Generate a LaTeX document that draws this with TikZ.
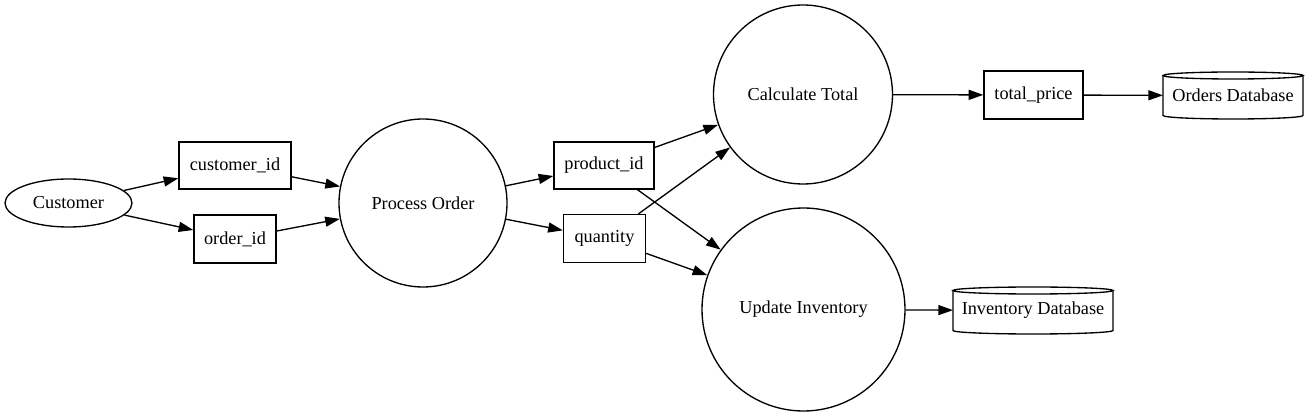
\documentclass[tikz,border=0pt]{standalone}
\usepackage{fontspec}
\setmainfont{Liberation Serif}
\usetikzlibrary{arrows.meta,shapes.geometric}
\def\u{0.75pt}
\newcommand\cylshape[2]{%
  \draw[line width=1pt] ([yshift=-3.5*\u]#1.north west) -- ([yshift=3.5*\u]#1.south west)
    arc[start angle=180,end angle=360,x radius=#2*\u/2,y radius=3.5*\u]
    -- ([yshift=-3.5*\u]#1.north east);
  \draw[line width=1pt] ([yshift=-3.5*\u]#1.north) ellipse[x radius=#2*\u/2,y radius=3.5*\u];
}
\begin{document}
\begin{tikzpicture}[x=0.75pt,y=-0.75pt,
  every node/.style={font=\fontsize{13.7}{16}\selectfont, inner sep=0pt, line width=1pt},
  procnode/.style={circle,draw,minimum size=#1*\u},
  databox/.style={rectangle,draw,minimum height=47*\u,minimum width=#1*\u},
  storenode/.style={rectangle,outer sep=0pt,minimum height=47*\u,minimum width=#1*\u},
  extnode/.style={ellipse,draw,minimum width=127*\u,minimum height=48*\u},
  flowarrow/.style={-{Triangle[length=11pt,width=7.5pt]},line width=1pt}]
\useasboundingbox (0,0) rectangle (1310,416);

\node[extnode] (cust) at (68.5,203) {Customer};
\node[databox=112] (cid) at (235,165.5) {customer\_id};
\node[databox=82,minimum height=48*\u] (oid) at (235,239) {order\_id};
\node[procnode=168] (po) at (423,203) {Process Order};
\node[databox=100] (pid) at (604,165.5) {product\_id};
\node[databox=82,minimum height=48*\u] (qty) at (604.5,238.5) {quantity};
\node[procnode=179] (ct) at (803,94.5) {Calculate Total};
\node[procnode=203] (ui) at (803.5,309.5) {Update Inventory};
\node[databox=99,minimum height=48*\u] (tp) at (1033.5,95) {total\_price};
\node[storenode=140] (odb) at (1233,95.5) {Orders Database};
\node[storenode=160] (idb) at (1033,310.5) {Inventory Database};
\cylshape{odb}{140}
\cylshape{idb}{160}

\draw[flowarrow] (cust) -- (cid);
\draw[flowarrow] (cust) -- (oid);
\draw[flowarrow] (cid) -- (po);
\draw[flowarrow] (oid) -- (po);
\draw[flowarrow] (po) -- (pid);
\draw[flowarrow] (po) -- (qty);
\draw[flowarrow] (pid) -- (ct);
\draw[flowarrow] (qty) -- (ct);
\draw[flowarrow] (pid) -- (ui);
\draw[flowarrow] (qty) -- (ui);
\draw[flowarrow] (ct) -- (tp);
\draw[flowarrow] (tp) -- (odb);
\draw[flowarrow] (ui) -- (idb);
\end{tikzpicture}
\end{document}
